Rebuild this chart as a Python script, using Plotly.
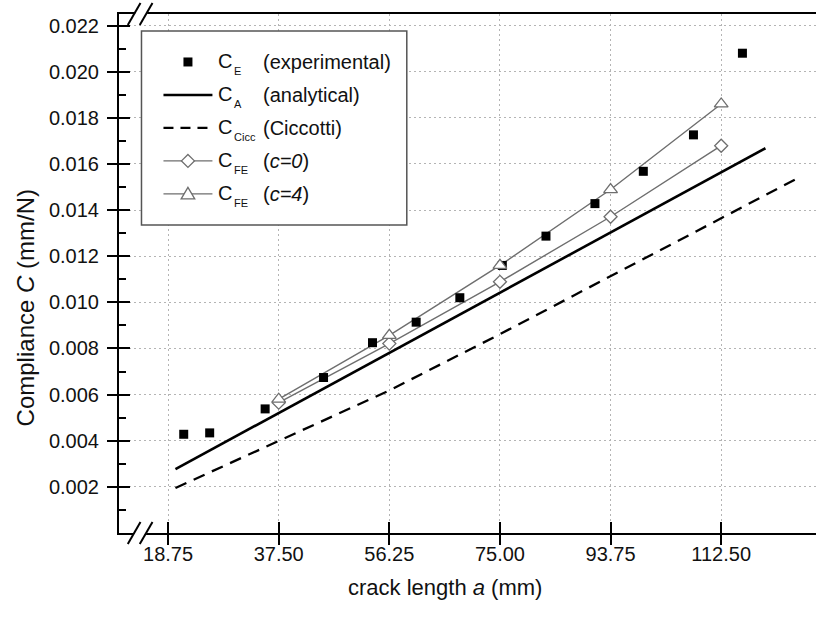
import plotly.graph_objects as go

# ---------------- data ----------------
# experimental compliance C_E (mm/N) versus crack length a (mm)
a_exp = [21.4, 25.8, 35.2, 45.1, 53.4, 60.8, 68.2, 75.4, 82.8, 91.1, 99.3, 107.8, 116.1]
c_exp = [0.00428, 0.00434, 0.00538, 0.00674, 0.00825, 0.00914, 0.0102,
         0.0116, 0.01287, 0.01428, 0.01568, 0.01726, 0.0208]

# analytical solution C_A
a_ana = [20.0, 120.0]
c_ana = [0.00277, 0.01668]

# Ciccotti solution C_Cicc
a_cicc = [20.0, 37.5, 56.25, 75.0, 93.75, 112.5, 125.0]
c_cicc = [0.00195, 0.00400, 0.00618, 0.00862, 0.01112, 0.01362, 0.01532]

# finite element results C_FE
a_fe = [37.5, 56.25, 75.0, 93.75, 112.5]
c_fe0 = [0.00565, 0.00821, 0.01089, 0.01371, 0.01679]   # c = 0
c_fe4 = [0.0058, 0.00857, 0.0116, 0.01489, 0.0186]      # c = 4

# axis ticks
x_tickvals = [18.75, 37.5, 56.25, 75.0, 93.75, 112.5]
x_ticktext = ["18.75", "37.50", "56.25", "75.00", "93.75", "112.50"]
y_tickvals = [0.002, 0.004, 0.006, 0.008, 0.010, 0.012, 0.014, 0.016, 0.018, 0.020, 0.022]
y_ticktext = ["0.002", "0.004", "0.006", "0.008", "0.010", "0.012",
              "0.014", "0.016", "0.018", "0.020", "0.022"]
y_minorvals = [0.001, 0.003, 0.005, 0.007, 0.009, 0.011, 0.013, 0.015, 0.017, 0.019, 0.021]

# legend entries: main symbol, subscript, description
legend_rows = [
    ("C", "E", "(experimental)"),
    ("C", "A", "(analytical)"),
    ("C", "Cicc", "(Ciccotti)"),
    ("C", "FE", "(<i>c=0</i>)"),
    ("C", "FE", "(<i>c=4</i>)"),
]

# ---------------- layout constants ----------------
FONT = "Liberation Sans, Arial, sans-serif"
W, H = 816, 623
L, R, T, B = 118.5, 816.0, 14.0, 533.3
X_RANGE = [10.43, 128.57]
Y_RANGE = [0.0, 0.0225]
GRAY = "#6e6e6e"
GRID = "#b4b4b4"
TXT = "#111111"


def fx(px):
    return (px - L) / (R - L)


def fy(py):
    return (B - py) / (B - T)


def path(points, close=True):
    s = "M " + " L ".join(f"{fx(x):.5f},{fy(y):.5f}" for x, y in points)
    return s + (" Z" if close else "")


fig = go.Figure()

# model curves
fig.add_trace(go.Scatter(x=a_ana, y=c_ana, mode="lines",
                         line=dict(color="black", width=2.6), hoverinfo="skip"))
fig.add_trace(go.Scatter(x=a_cicc, y=c_cicc, mode="lines",
                         line=dict(color="black", width=2.3, dash="12px,8px"), hoverinfo="skip"))
fig.add_trace(go.Scatter(x=a_fe, y=c_fe0, mode="lines",
                         line=dict(color=GRAY, width=1.4), hoverinfo="skip"))
fig.add_trace(go.Scatter(x=a_fe, y=c_fe4, mode="lines",
                         line=dict(color=GRAY, width=1.4), hoverinfo="skip"))
# experiments
fig.add_trace(go.Scatter(x=a_exp, y=c_exp, mode="markers",
                         marker=dict(symbol="square", size=9, color="black", line=dict(width=0))))
# FE markers
fig.add_trace(go.Scatter(x=a_fe, y=c_fe0, mode="markers",
                         marker=dict(symbol="diamond", size=10, color="white",
                                     line=dict(color=GRAY, width=1.3))))
fig.add_trace(go.Scatter(x=a_fe, y=c_fe4, mode="markers",
                         marker=dict(symbol="triangle-up", size=12, color="white",
                                     line=dict(color=GRAY, width=1.3))))
# empty trace so the overlay axes (outer tick halves) get drawn
fig.add_trace(go.Scatter(x=[None], y=[None], xaxis="x2", yaxis="y2",
                         mode="markers", hoverinfo="skip"))

tick_font = dict(family=FONT, size=20, color=TXT)

fig.update_layout(
    width=W, height=H,
    margin=dict(l=L, r=0, t=T, b=H - B, pad=0),
    plot_bgcolor="white", paper_bgcolor="white",
    showlegend=False,
    xaxis=dict(range=X_RANGE, tickmode="array", tickvals=x_tickvals, ticktext=x_ticktext,
               ticks="inside", ticklen=11, tickwidth=2, tickcolor="black",
               ticklabelstandoff=2,
               showline=True, linewidth=2, linecolor="black", mirror=True,
               showgrid=True, gridcolor=GRID, gridwidth=1.3, griddash="2px,3px",
               zeroline=False, tickfont=tick_font),
    xaxis2=dict(range=X_RANGE, overlaying="x", anchor="y2", side="bottom",
                tickmode="array", tickvals=x_tickvals, ticks="outside", ticklen=11,
                tickwidth=2, tickcolor="black", showticklabels=False,
                showgrid=False, showline=False, zeroline=False),
    yaxis=dict(range=Y_RANGE, tickmode="array", tickvals=y_tickvals, ticktext=y_ticktext,
               ticks="inside", ticklen=11, tickwidth=2, tickcolor="black",
               ticklabelstandoff=14,
               showline=True, linewidth=2, linecolor="black", mirror=False,
               showgrid=True, gridcolor=GRID, gridwidth=1.3, griddash="2px,3px",
               zeroline=False, tickfont=tick_font,
               minor=dict(tickmode="array", tickvals=y_minorvals, ticks="inside",
                          ticklen=7, tickwidth=2, tickcolor="black", showgrid=False)),
    yaxis2=dict(range=Y_RANGE, overlaying="y", anchor="x2", side="left",
                tickmode="array", tickvals=y_tickvals, ticks="outside", ticklen=11,
                tickwidth=2, tickcolor="black", showticklabels=False,
                showgrid=False, showline=False, zeroline=False),
)

shapes = []
annotations = []

# axis break marks on the x axis (bottom and top)
for yc in (B, T):
    gap = [(132.0, yc + 4), (136.7, yc - 4), (148.7, yc - 4), (144.0, yc + 4)]
    shapes.append(dict(type="path", xref="paper", yref="paper", path=path(gap),
                       fillcolor="white", line=dict(width=0), layer="above"))
    for dx in (0.0, 12.0):
        shapes.append(dict(type="path", xref="paper", yref="paper",
                           path=path([(127.3 + dx, yc + 11), (140.0 + dx, yc - 11)], close=False),
                           line=dict(color="black", width=2), layer="above"))

# legend frame
shapes.append(dict(type="rect", xref="paper", yref="paper",
                   x0=fx(141), x1=fx(406.5), y0=fy(225), y1=fy(31),
                   line=dict(color="#555555", width=1.5), fillcolor="white", layer="above"))

rows_y = [61.0, 94.0, 127.0, 160.0, 193.0]
sym_x0, sym_x1, sym_xc = 163.0, 212.0, 187.5

# legend symbols
y0 = rows_y[0] + 1
shapes.append(dict(type="rect", xref="paper", yref="paper",
                   x0=fx(sym_xc - 4.5), x1=fx(sym_xc + 4.5), y0=fy(y0 + 4.5), y1=fy(y0 - 4.5),
                   fillcolor="black", line=dict(width=0), layer="above"))
y1 = rows_y[1] + 1
shapes.append(dict(type="line", xref="paper", yref="paper",
                   x0=fx(sym_x0), x1=fx(sym_x1), y0=fy(y1), y1=fy(y1),
                   line=dict(color="black", width=2.6), layer="above"))
y2 = rows_y[2] + 1
shapes.append(dict(type="line", xref="paper", yref="paper",
                   x0=fx(sym_x0), x1=fx(sym_x1), y0=fy(y2), y1=fy(y2),
                   line=dict(color="black", width=2.3, dash="10px,7px"), layer="above"))
for k, shape_pts in ((3, "diamond"), (4, "triangle")):
    yk = rows_y[k] + 1
    shapes.append(dict(type="line", xref="paper", yref="paper",
                       x0=fx(sym_x0), x1=fx(sym_x1), y0=fy(yk), y1=fy(yk),
                       line=dict(color=GRAY, width=1.4), layer="above"))
    if shape_pts == "diamond":
        pts = [(sym_xc, yk - 6.5), (sym_xc + 6.5, yk), (sym_xc, yk + 6.5), (sym_xc - 6.5, yk)]
    else:
        pts = [(sym_xc, yk - 6.5), (sym_xc + 6.8, yk + 5), (sym_xc - 6.8, yk + 5)]
    shapes.append(dict(type="path", xref="paper", yref="paper", path=path(pts),
                       fillcolor="white", line=dict(color=GRAY, width=1.3), layer="above"))

# legend texts
for (main, sub, desc), yr in zip(legend_rows, rows_y):
    annotations.append(dict(text=main, x=fx(215.5), y=fy(yr), xref="paper", yref="paper",
                            xanchor="left", yanchor="middle", showarrow=False,
                            font=dict(family=FONT, size=20, color=TXT)))
    annotations.append(dict(text=sub, x=fx(231.5), y=fy(yr + 10), xref="paper", yref="paper",
                            xanchor="left", yanchor="middle", showarrow=False,
                            font=dict(family=FONT, size=11, color=TXT)))
    annotations.append(dict(text=desc, x=fx(260.5), y=fy(yr + 1), xref="paper", yref="paper",
                            xanchor="left", yanchor="middle", showarrow=False,
                            font=dict(family=FONT, size=20, color=TXT)))

# axis titles
annotations.append(dict(text="crack length <i>a</i> (mm)", x=fx(445), y=fy(588),
                        xref="paper", yref="paper", xanchor="center", yanchor="middle",
                        showarrow=False, font=dict(family=FONT, size=22, color=TXT)))
annotations.append(dict(text="Compliance <i>C</i> (mm/N)", x=fx(25), y=fy(308),
                        xref="paper", yref="paper", xanchor="center", yanchor="middle",
                        textangle=-90, showarrow=False,
                        font=dict(family=FONT, size=24, color=TXT)))

fig.update_layout(shapes=shapes, annotations=annotations)

fig.write_html("out.html")
